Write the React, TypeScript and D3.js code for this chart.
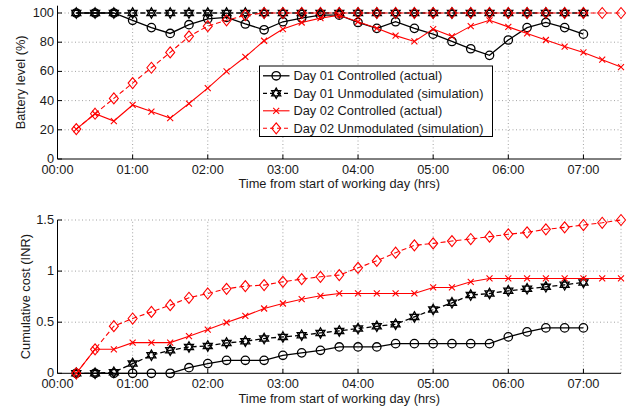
import React, { useRef, useEffect } from 'react';
import * as d3 from 'd3';

// time of each sample, hours from start of working day
const times = [
  0.25, 0.5, 0.75, 1.0, 1.25, 1.5, 1.75, 2.0, 2.25, 2.5, 2.75, 3.0, 3.25, 3.5, 3.75,
  4.0, 4.25, 4.5, 4.75, 5.0, 5.25, 5.5, 5.75, 6.0, 6.25, 6.5, 6.75, 7.0, 7.25, 7.5,
];

// battery level (%)
const batDay1Ctrl = [
  100, 100, 100, 95, 90, 86, 92, 96, 97, 92.5, 88.5, 94, 96.5, 98.5, 98.5,
  93.5, 89.5, 94, 89.5, 85.5, 80.5, 75.5, 71, 81.5, 90, 93.5, 90, 85.5,
];
const batDay1Sim = [
  100, 100, 100, 100, 100, 100, 100, 100, 100, 100, 100, 100, 100, 100, 100,
  100, 100, 100, 100, 100, 100, 100, 100, 100, 100, 100, 100, 100,
];
const batDay2Ctrl = [
  20.5, 31, 26, 37, 32.5, 28, 38, 48.5, 60, 70, 81, 89, 93.5, 96.5, 98.5,
  94, 89.5, 84.5, 80.5, 89, 84, 91, 95, 90.5, 86, 81.5, 77, 73, 68, 63,
];
const batDay2Sim = [
  20.5, 31, 41.5, 52, 62.5, 73, 84, 91, 95, 98.5, 100, 100, 100, 100, 100,
  100, 100, 100, 100, 100, 100, 100, 100, 100, 100, 100, 100, 100, 100, 100,
];

// cumulative cost (INR)
const costDay1Ctrl = [
  0, 0, 0, 0, 0, 0, 0.055, 0.095, 0.127, 0.127, 0.127, 0.176, 0.2, 0.225, 0.258,
  0.258, 0.258, 0.29, 0.29, 0.29, 0.29, 0.29, 0.29, 0.356, 0.405, 0.444, 0.444, 0.444,
];
const costDay1Sim = [
  0, 0, 0.01, 0.095, 0.176, 0.225, 0.258, 0.268, 0.297, 0.314, 0.34, 0.356, 0.373, 0.395, 0.415,
  0.438, 0.46, 0.48, 0.552, 0.624, 0.69, 0.765, 0.781, 0.807, 0.827, 0.846, 0.866, 0.889,
];
const costDay2Ctrl = [
  0, 0.235, 0.235, 0.3, 0.3, 0.3, 0.363, 0.428, 0.497, 0.562, 0.634, 0.683, 0.725, 0.758, 0.781,
  0.781, 0.781, 0.781, 0.781, 0.84, 0.84, 0.895, 0.928, 0.928, 0.928, 0.928, 0.928, 0.928, 0.928, 0.928,
];
const costDay2Sim = [
  0, 0.235, 0.461, 0.536, 0.601, 0.667, 0.739, 0.781, 0.827, 0.853, 0.863, 0.895, 0.922, 0.944, 0.961,
  1.032, 1.101, 1.18, 1.252, 1.271, 1.294, 1.314, 1.337, 1.36, 1.379, 1.409, 1.428, 1.451, 1.473, 1.5,
];

const seriesNames = [
  'Day 01 Controlled (actual)',
  'Day 01 Unmodulated (simulation)',
  'Day 02 Controlled (actual)',
  'Day 02 Unmodulated (simulation)',
];
const xTicks = [0, 1, 2, 3, 4, 5, 6, 7];
const batTicks = [0, 20, 40, 60, 80, 100];
const costTicks = [0, 0.5, 1, 1.5];

const FONT = '"Liberation Sans", Arial, Helvetica, sans-serif';
const FS = 12.8;

const styles = [
  { color: '#000', dash: null, marker: 'circle', width: 1.3 },
  { color: '#000', dash: '5,3', marker: 'hexagram', width: 1.3 },
  { color: '#f00', dash: null, marker: 'x', width: 1.1 },
  { color: '#f00', dash: '5,3', marker: 'diamond', width: 1.1 },
];

const markerPath = (type) => {
  if (type === 'circle') {
    const r = 4.2;
    return `M${-r},0A${r},${r} 0 1,0 ${r},0A${r},${r} 0 1,0 ${-r},0Z`;
  }
  if (type === 'diamond') {
    return 'M0,-5.5L4.5,0L0,5.5L-4.5,0Z';
  }
  if (type === 'x') {
    return 'M-3,-3L3,3M-3,3L3,-3';
  }
  // six-pointed star, two triangles
  const r = 5.2;
  const tri = (off) => d3.range(3).map(i => {
    const a = off + (i * 2 * Math.PI) / 3;
    return `${(r * Math.sin(a)).toFixed(2)},${(-r * Math.cos(a)).toFixed(2)}`;
  });
  const t1 = tri(0);
  const t2 = tri(Math.PI);
  return `M${t1.join('L')}ZM${t2.join('L')}Z`;
};

const drawMarkers = (g, pts, st) => {
  g.selectAll(null)
    .data(pts)
    .join('path')
    .attr('transform', d => `translate(${d[0]},${d[1]})`)
    .attr('d', markerPath(st.marker))
    .attr('fill', 'none')
    .attr('stroke', st.color)
    .attr('stroke-width', st.width);
};

const App = () => {
  const svgRef = useRef();

  useEffect(() => {
    const width = 634;
    const height = 411;
    const svg = d3.select(svgRef.current)
      .attr('width', width)
      .attr('height', height)
      .attr('font-family', FONT);
    svg.selectAll('*').remove();

    const x = d3.scaleLinear().domain([0, 7.5]).range([57.5, 621]);

    const panels = [
      {
        y: d3.scaleLinear().domain([0, 105]).range([159, 5.7]),
        ticks: batTicks,
        label: 'Battery level (%)',
        labelX: 25,
        series: [batDay1Ctrl, batDay1Sim, batDay2Ctrl, batDay2Sim],
        tickLabelY: 174,
        axisLabelY: 188,
      },
      {
        y: d3.scaleLinear().domain([0, 1.5]).range([373.3, 220]),
        ticks: costTicks,
        label: 'Cumulative cost (INR)',
        labelX: 30,
        series: [costDay1Ctrl, costDay1Sim, costDay2Ctrl, costDay2Sim],
        tickLabelY: 388,
        axisLabelY: 402.5,
      },
    ];

    panels.forEach(p => {
      const y = p.y;
      const [y0, y1] = y.range();
      const g = svg.append('g');

      // grid
      g.selectAll(null)
        .data(xTicks.slice(1).concat([7.5]))
        .join('line')
        .attr('x1', d => x(d)).attr('x2', d => x(d))
        .attr('y1', y0).attr('y2', y(p.ticks[p.ticks.length - 1]))
        .attr('stroke', '#8c8c8c')
        .attr('stroke-width', 0.8)
        .attr('stroke-dasharray', '1,2.5');
      g.selectAll(null)
        .data(p.ticks.slice(1))
        .join('line')
        .attr('x1', x(0)).attr('x2', x(7.5))
        .attr('y1', d => y(d)).attr('y2', d => y(d))
        .attr('stroke', '#8c8c8c')
        .attr('stroke-width', 0.8)
        .attr('stroke-dasharray', '1,2.5');

      // axes lines + inward ticks
      g.append('line')
        .attr('x1', x(0)).attr('x2', x(7.5))
        .attr('y1', y0).attr('y2', y0)
        .attr('stroke', '#000');
      g.append('line')
        .attr('x1', x(0)).attr('x2', x(0))
        .attr('y1', y0).attr('y2', y1)
        .attr('stroke', '#000');
      g.selectAll(null)
        .data(xTicks)
        .join('line')
        .attr('x1', d => x(d)).attr('x2', d => x(d))
        .attr('y1', y0).attr('y2', y0 - 4.5)
        .attr('stroke', '#000');
      g.selectAll(null)
        .data(p.ticks)
        .join('line')
        .attr('x1', x(0)).attr('x2', x(0) + 4.5)
        .attr('y1', d => y(d)).attr('y2', d => y(d))
        .attr('stroke', '#000');

      // tick labels
      g.selectAll(null)
        .data(xTicks)
        .join('text')
        .attr('x', d => x(d))
        .attr('y', p.tickLabelY)
        .attr('text-anchor', 'middle')
        .attr('font-size', FS)
        .attr('fill', '#1a1a1a')
        .text(d => `0${d}:00`);
      g.selectAll(null)
        .data(p.ticks)
        .join('text')
        .attr('x', x(0) - 3.5)
        .attr('y', d => y(d) + 4)
        .attr('text-anchor', 'end')
        .attr('font-size', FS)
        .attr('fill', '#1a1a1a')
        .text(d => String(d));

      // axis labels
      g.append('text')
        .attr('x', (x(0) + x(7.5)) / 2)
        .attr('y', p.axisLabelY)
        .attr('text-anchor', 'middle')
        .attr('font-size', FS)
        .attr('fill', '#1a1a1a')
        .text('Time from start of working day (hrs)');
      g.append('text')
        .attr('transform', `translate(${p.labelX},${(y0 + y1) / 2}) rotate(-90)`)
        .attr('text-anchor', 'middle')
        .attr('font-size', FS)
        .attr('fill', '#1a1a1a')
        .text(p.label);

      // series
      p.series.forEach((vals, i) => {
        const st = styles[i];
        const pts = vals.map((v, j) => [x(times[j]), y(v)]);
        g.append('path')
          .attr('d', d3.line()(pts))
          .attr('fill', 'none')
          .attr('stroke', st.color)
          .attr('stroke-width', st.width)
          .attr('stroke-dasharray', st.dash);
        drawMarkers(g.append('g'), pts, st);
      });
    });

    // legend
    const lg = svg.append('g');
    lg.append('rect')
      .attr('x', 259.5).attr('y', 66)
      .attr('width', 233).attr('height', 70.5)
      .attr('fill', '#fff')
      .attr('stroke', '#000');
    seriesNames.forEach((name, i) => {
      const st = styles[i];
      const cy = 75.8 + i * 17.5;
      lg.append('line')
        .attr('x1', 263).attr('x2', 289.5)
        .attr('y1', cy).attr('y2', cy)
        .attr('stroke', st.color)
        .attr('stroke-width', st.width)
        .attr('stroke-dasharray', st.dash ? '4,3' : null);
      drawMarkers(lg.append('g'), [[276.2, cy]], st);
      lg.append('text')
        .attr('x', 293.5)
        .attr('y', cy + 4.5)
        .attr('font-size', FS)
        .attr('fill', '#1a1a1a')
        .text(name);
    });
  }, []);

  return (
    <div style={{ position: 'fixed', left: 0, top: 0, width: 634, height: 411, background: '#fff' }}>
      <svg ref={svgRef}></svg>
    </div>
  );
};

export default App;
